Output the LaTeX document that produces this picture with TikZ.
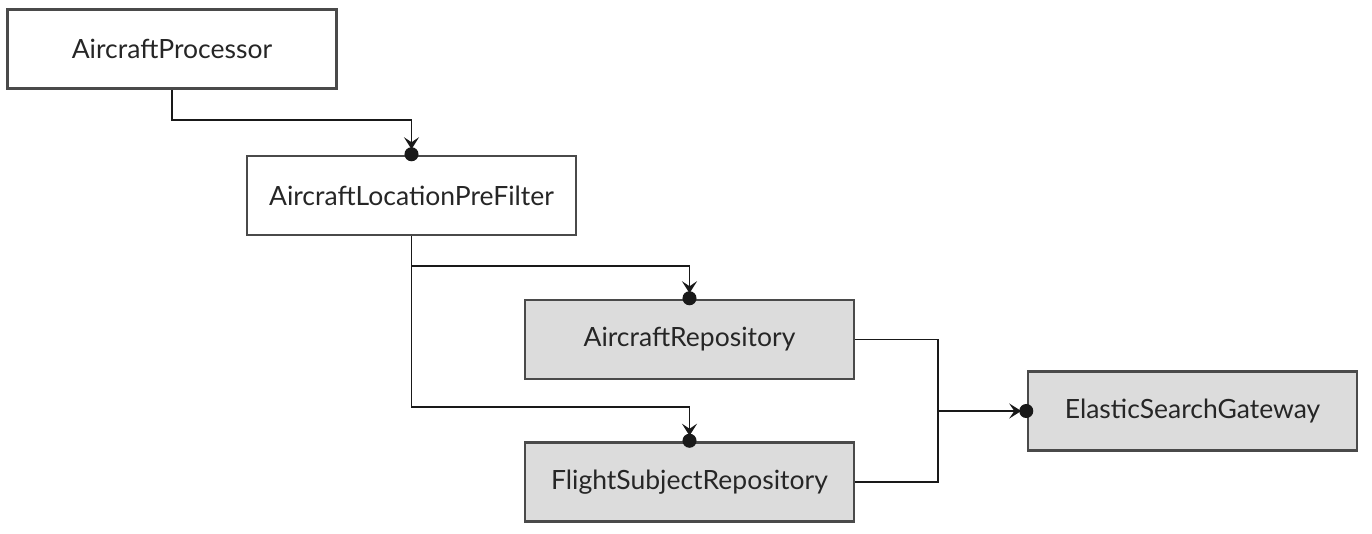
\documentclass[tikz,border=0pt]{standalone}
\usepackage{fontspec}
\setmainfont{Lato}
\usetikzlibrary{arrows.meta}
\definecolor{boxgray}{HTML}{DCDCDC}
\definecolor{edgegray}{HTML}{4A4A4A}
\tikzset{
  box/.style={draw=edgegray, line width=2.5pt, minimum width=329pt, minimum height=79pt, inner sep=0pt,
    font=\fontsize{26.5}{30}\selectfont, text=black!85},
  plain/.style={box, fill=white},
  grey/.style={box, fill=boxgray},
  conn/.style={line width=1.4pt, black!90, shorten >=-6.5pt,
    -{Stealth[length=12pt,width=15pt,inset=5pt,sep=-2pt] Circle[length=14pt,width=14pt]}},
  wire/.style={line width=1.4pt, black!90}
}
\begin{document}
\begin{tikzpicture}[x=1pt,y=-1pt]
\useasboundingbox (0,0) rectangle (1372,533);
\node[plain] (proc) at (172,49) {AircraftProcessor};
\node[plain] (pre) at (411.5,195.5) {AircraftLocationPreFilter};
\node[grey] (arep) at (689.5,339.5) {AircraftRepository};
\node[grey] (fsr) at (689.5,482) {FlightSubjectRepository};
\node[grey] (esg) at (1192.5,411) {ElasticSearchGateway};
\coordinate (j1) at (172,120);
\coordinate (j2) at (411.5,266);
\coordinate (j3) at (411.5,407);
\coordinate (m) at (938,411);
\draw[conn] (proc.south) -- (j1) -| (pre.north);
\draw[conn] (pre.south) -- (j2) -| (arep.north);
\draw[conn] (pre.south) -- (j3) -| (fsr.north);
\draw[wire] (arep.east) -| (m);
\draw[wire] (fsr.east) -| (m);
\draw[conn] (m) -- (esg.west);
\end{tikzpicture}
\end{document}
